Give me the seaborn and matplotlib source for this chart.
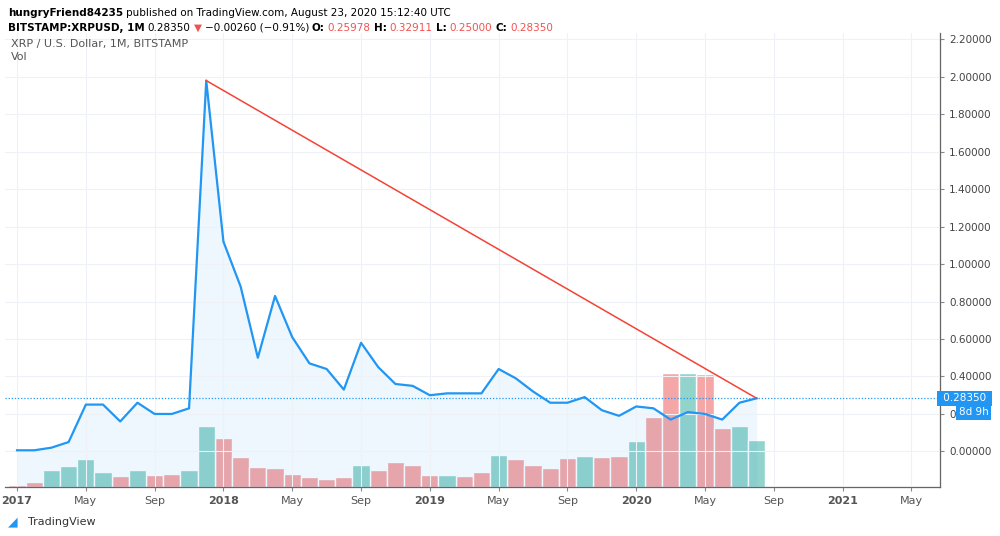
import matplotlib
matplotlib.use("Agg")
import matplotlib.pyplot as plt
import seaborn as sns
import pandas as pd
import numpy as np

months = list(range(44))  # Jan 2017 .. Aug 2020
price = [0.006,0.006,0.02,0.05,0.25,0.25,0.16,0.26,0.20,0.20,0.23,1.98,
         1.12,0.88,0.50,0.83,0.61,0.47,0.44,0.33,0.58,0.45,0.36,0.35,
         0.30,0.31,0.31,0.31,0.44,0.39,0.32,0.26,0.26,0.29,0.22,0.19,
         0.24,0.23,0.17,0.21,0.20,0.17,0.26,0.2835]
volume = [2,5,17,21,28,15,11,17,12,13,17,61,
          49,30,20,19,13,10,8,10,22,17,25,22,
          12,12,11,15,32,28,22,19,29,31,30,31,
          46,70,114,114,113,59,61,47]
direction = ["down","down","up","up","up","up","down","up","down","down","up","up",
             "down","down","down","down","down","down","down","down","up","down","down","down",
             "down","up","down","down","up","down","down","down","down","up","down","down",
             "up","down","down","up","down","down","up","up"]
tick_pos = [0,4,8,12,16,20,24,28,32,36,40,44,48,52]
tick_lab = ["2017","May","Sep","2018","May","Sep","2019","May","Sep","2020","May","Sep","2021","May"]
last = 0.2835

df = pd.DataFrame({"m": months, "price": price, "vol": volume, "dir": direction})

fig = plt.figure(figsize=(10, 5.36), dpi=100)
ax = fig.add_axes([0.005, (536-487)/536, 0.935, (487-33)/536])
ax2 = ax.twinx()

ax.set_ylim(-0.19, 2.234)
ax.set_xlim(-0.7, 53.66)
ax2.set_ylim(0, 454)

sns.barplot(data=df, x="m", y="vol", hue="dir", palette={"up": "#92d3cb", "down": "#f5a6a6"},
            native_scale=True, dodge=False, width=1.0, edgecolor="white", linewidth=1,
            saturation=1, legend=False, ax=ax2)
ax2.set_ylabel(""); ax2.set_yticks([])

ax.set_zorder(ax2.get_zorder() + 1)
ax.patch.set_visible(False)
ax2.patch.set_facecolor("white")

sns.lineplot(data=df, x="m", y="price", color="#2196f3", linewidth=1.6, ax=ax)
ax.fill_between(df["m"], df["price"], -0.19, color="#2196f3", alpha=0.07, lw=0)
ax.plot([months[11], months[-1]], [price[11], price[-1]], color="#f44336", lw=1.1)
ax.axhline(last, color="#2196f3", lw=0.9, ls=(0, (1, 1.5)))

ax.set_xticks(tick_pos)
ax.set_xticklabels(tick_lab, fontsize=8, color="#555")
for t, l in zip(ax.get_xticklabels(), tick_lab):
    if l.isdigit():
        t.set_fontweight("bold")
ax.yaxis.tick_right()
yt = np.arange(0, 2.21, 0.2)
ax.set_yticks(yt)
ax.set_yticklabels([f"{v:.5f}" for v in yt], fontsize=7.5, color="#444")
ax.tick_params(axis="both", length=3, color="#888")
ax.grid(True, color="#eef1f6", lw=0.8)
ax2.grid(False)
ax.set_xlabel(""); ax.set_ylabel("")
for s in ["top", "left"]:
    ax.spines[s].set_visible(False)
    ax2.spines[s].set_visible(False)
for s in ["bottom", "right"]:
    ax.spines[s].set_color("#666")

ax.text(1.0, last, " 0.28350 ", transform=ax.get_yaxis_transform(), ha="left", va="center",
        fontsize=7.5, color="white", bbox=dict(boxstyle="square,pad=0.25", fc="#2196f3", ec="none"))
ax.text(1.02, last - 0.075, "8d 9h", transform=ax.get_yaxis_transform(), ha="left", va="center",
        fontsize=7.5, color="white", bbox=dict(boxstyle="square,pad=0.25", fc="#2196f3", ec="none"))

renderer = fig.canvas.get_renderer()
def chain(y, parts):
    x = 0.008
    for txt, kw in parts:
        t = fig.text(x, y, txt, fontsize=7.5, va="center", **kw)
        bb = t.get_window_extent(renderer)
        x += bb.width / fig.bbox.width + 0.003

chain(0.975, [("hungryFriend84235", dict(fontweight="bold")),
              ("published on TradingView.com, August 23, 2020 15:12:40 UTC", {})])
red = "#f0524f"
chain(0.948, [("BITSTAMP:XRPUSD, 1M", dict(fontweight="bold")),
              ("0.28350", {}), ("▼", dict(color=red)), ("−0.00260 (−0.91%)", {}),
              ("O:", dict(fontweight="bold")), ("0.25978", dict(color=red)),
              ("H:", dict(fontweight="bold")), ("0.32911", dict(color=red)),
              ("L:", dict(fontweight="bold")), ("0.25000", dict(color=red)),
              ("C:", dict(fontweight="bold")), ("0.28350", dict(color=red))])
fig.text(0.011, 0.917, "XRP / U.S. Dollar, 1M, BITSTAMP", fontsize=8, color="#555", va="center")
fig.text(0.011, 0.893, "Vol", fontsize=8, color="#555", va="center")
fig.text(0.028, 0.026, "TradingView", fontsize=8, color="#333", va="center")
fig.text(0.008, 0.026, "◢", fontsize=9, color="#2196f3", va="center")

fig.savefig("out.png", dpi=100, facecolor="white")
